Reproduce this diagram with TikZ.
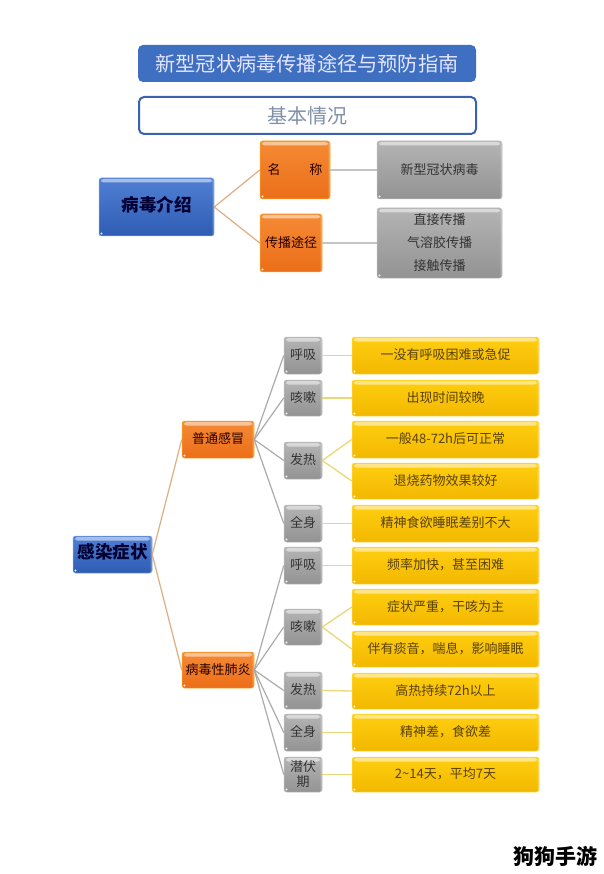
\documentclass[tikz,border=0pt]{standalone}
\usepackage{fontspec}
\setmainfont{Noto Sans CJK SC}
\usetikzlibrary{calc}
\definecolor{tblue}{HTML}{3F6FC0}
\definecolor{sublab}{HTML}{7F90A8}
\definecolor{otop}{HTML}{F58A35}
\definecolor{obot}{HTML}{EC6E18}
\definecolor{ytop}{HTML}{FFCE10}
\definecolor{ybot}{HTML}{F2B800}
\definecolor{ytext}{HTML}{5A4205}
\definecolor{gtop}{HTML}{B4B4B4}
\definecolor{gbot}{HTML}{939393}
\definecolor{btop}{HTML}{4F7FD2}
\definecolor{bbot}{HTML}{2F5CB4}
\definecolor{ylink}{HTML}{EAD878}
\definecolor{tlink}{HTML}{DDAE84}
\definecolor{glink}{HTML}{ABABAB}
\definecolor{glinklight}{HTML}{C4C4C4}
\tikzset{
  bevel/.style={rounded corners=2.5pt, inner sep=0pt, align=center, text height=0.9em, text depth=0.04em,
    path picture={
      \fill[white,opacity=.5] ([xshift=2pt,yshift=-1pt]path picture bounding box.north west) rectangle ([xshift=-2pt,yshift=-4.5pt]path picture bounding box.north east);
      \fill[white,opacity=.25] (path picture bounding box.north east) rectangle ([xshift=-1.5pt]path picture bounding box.south east);
      \fill[white,opacity=.85] ([xshift=2.5pt,yshift=2.5pt]path picture bounding box.south west) circle (1.2pt);
    }},
  bluebox/.style={bevel, draw=btop!70!white, line width=.5pt, top color=btop, bottom color=bbot, text=black!80!blue, font=\bfseries\fontsize{17.5}{20}\selectfont},
  orangebox/.style={bevel, draw=otop!70!yellow, line width=.5pt, top color=otop, bottom color=obot, text=black!85!red, font=\fontsize{13}{15}\selectfont},
  graybox/.style={bevel, draw=gray!50, line width=.5pt, top color=gtop, bottom color=gbot, text=black!80, font=\fontsize{13}{15}\selectfont},
  yellowbox/.style={bevel, draw=ytop!70!white, line width=.5pt, top color=ytop, bottom color=ybot, text=ytext, font=\fontsize{13}{15}\selectfont},
  titlebox/.style={rounded corners=5pt, inner sep=0pt, fill=tblue, text=white!90!blue, font=\fontsize{20.2}{24}\selectfont},
  subbox/.style={rounded corners=5pt, inner sep=0pt, fill=white, draw=tblue!90!black, line width=2pt, text=sublab, font=\fontsize{20}{24}\selectfont},
  tanline/.style={draw=tlink, line width=1.2pt},
  greyline/.style={draw=glink, line width=1.2pt},
  greylight/.style={draw=glinklight, line width=1.4pt},
  yelline/.style={draw=ylink, line width=1.3pt},
}
% \mkbox{name}{style}{x1}{y1}{x2}{y2}{text}
\newcommand{\mkbox}[7]{%
  \pgfmathsetmacro{\cxx}{(#3+#5)/2}\pgfmathsetmacro{\cyy}{(#4+#6)/2}%
  \pgfmathsetmacro{\www}{#5-#3}\pgfmathsetmacro{\hhh}{#6-#4}%
  \node[#2, minimum width=\www pt, minimum height=\hhh pt] (#1) at (\cxx pt,-\cyy pt) {#7};}
\begin{document}
\begin{tikzpicture}[x=1pt,y=1pt]
\useasboundingbox (0,0) rectangle (603,-874);
\fill[white] (0,0) rectangle (603,-874);
\mkbox{title}{titlebox}{138}{45}{476}{82}{新型冠状病毒传播途径与预防指南}
\mkbox{sub}{subbox}{139}{97}{476}{134}{基本情况}
\mkbox{virus}{bluebox}{99}{178}{214}{236}{病毒介绍}
\mkbox{name}{orangebox}{260}{141}{330}{199}{名\hspace{29pt}称}
\mkbox{route}{orangebox}{260}{214}{322}{272}{传播途径}
\mkbox{gname}{graybox}{377}{141}{502}{199}{新型冠状病毒}
\mkbox{groute}{graybox}{377}{208}{502}{278}{\begin{tabular}{@{}c@{}}直接传播\\[8pt]气溶胶传播\\[8pt]接触传播\end{tabular}}
\draw[tanline] (virus.east) -- (name.west);
\draw[tanline] (virus.east) -- (route.west);
\draw[greylight] (name.east) -- (gname.west);
\draw[greylight] (route.east) -- (route.east -| groute.west);
% symptoms
\mkbox{sym}{bluebox}{73}{536}{152}{573}{感染症状}
\mkbox{cold}{orangebox}{182}{421}{254}{458}{普通感冒}
\mkbox{pneu}{orangebox}{182}{652}{254}{688}{病毒性肺炎}
\mkbox{a}{graybox}{284}{337}{322}{374}{呼吸}
\mkbox{b}{graybox}{284}{380}{322}{416}{咳嗽}
\mkbox{c}{graybox}{284}{442}{322}{479}{发热}
\mkbox{d}{graybox}{284}{505}{322}{542}{全身}
\mkbox{e}{graybox}{284}{547}{322}{584}{呼吸}
\mkbox{f}{graybox}{284}{609}{322}{645}{咳嗽}
\mkbox{g}{graybox}{284}{672}{322}{709}{发热}
\mkbox{h}{graybox}{284}{714}{322}{751}{全身}
\mkbox{i}{graybox}{284}{757}{322}{792}{\begin{tabular}{@{}c@{}}潜伏\\期\end{tabular}}
\mkbox{ya}{yellowbox}{352}{337}{539}{374}{一没有呼吸困难或急促}
\mkbox{yb}{yellowbox}{352}{380}{539}{416}{出现时间较晚}
\mkbox{yc}{yellowbox}{352}{421}{539}{458}{一般48-72h后可正常}
\mkbox{yd}{yellowbox}{352}{463}{539}{499}{退烧药物效果较好}
\mkbox{ye}{yellowbox}{352}{505}{539}{542}{精神食欲睡眠差别不大}
\mkbox{yf}{yellowbox}{352}{547}{539}{584}{频率加快，甚至困难}
\mkbox{yg}{yellowbox}{352}{589}{539}{625}{症状严重，干咳为主}
\mkbox{yh}{yellowbox}{352}{631}{539}{667}{伴有痰音，喘息，影响睡眠}
\mkbox{yi}{yellowbox}{352}{673}{539}{709}{高热持续72h以上}
\mkbox{yj}{yellowbox}{352}{714}{539}{751}{精神差，食欲差}
\mkbox{yk}{yellowbox}{352}{757}{539}{792}{2\textasciitilde14天，平均7天}
\foreach \t in {cold,pneu} \draw[tanline] (sym.east) -- (\t.west);
\foreach \t in {a,b,c,d} \draw[greyline] (cold.east) -- (\t.west);
\foreach \t in {e,f,g,h,i} \draw[greyline] (pneu.east) -- (\t.west);
\foreach \s/\t in {a/ya,b/yb,c/yc,c/yd,d/ye,e/yf,f/yg,f/yh,g/yi,h/yj,i/yk} \draw[yelline] (\s.east) -- (\t.west);
\node[inner sep=0pt, font=\bfseries\fontsize{21}{24}\selectfont, text=black] (mark) at (555,-856) {狗狗手游};
\end{tikzpicture}
\end{document}
